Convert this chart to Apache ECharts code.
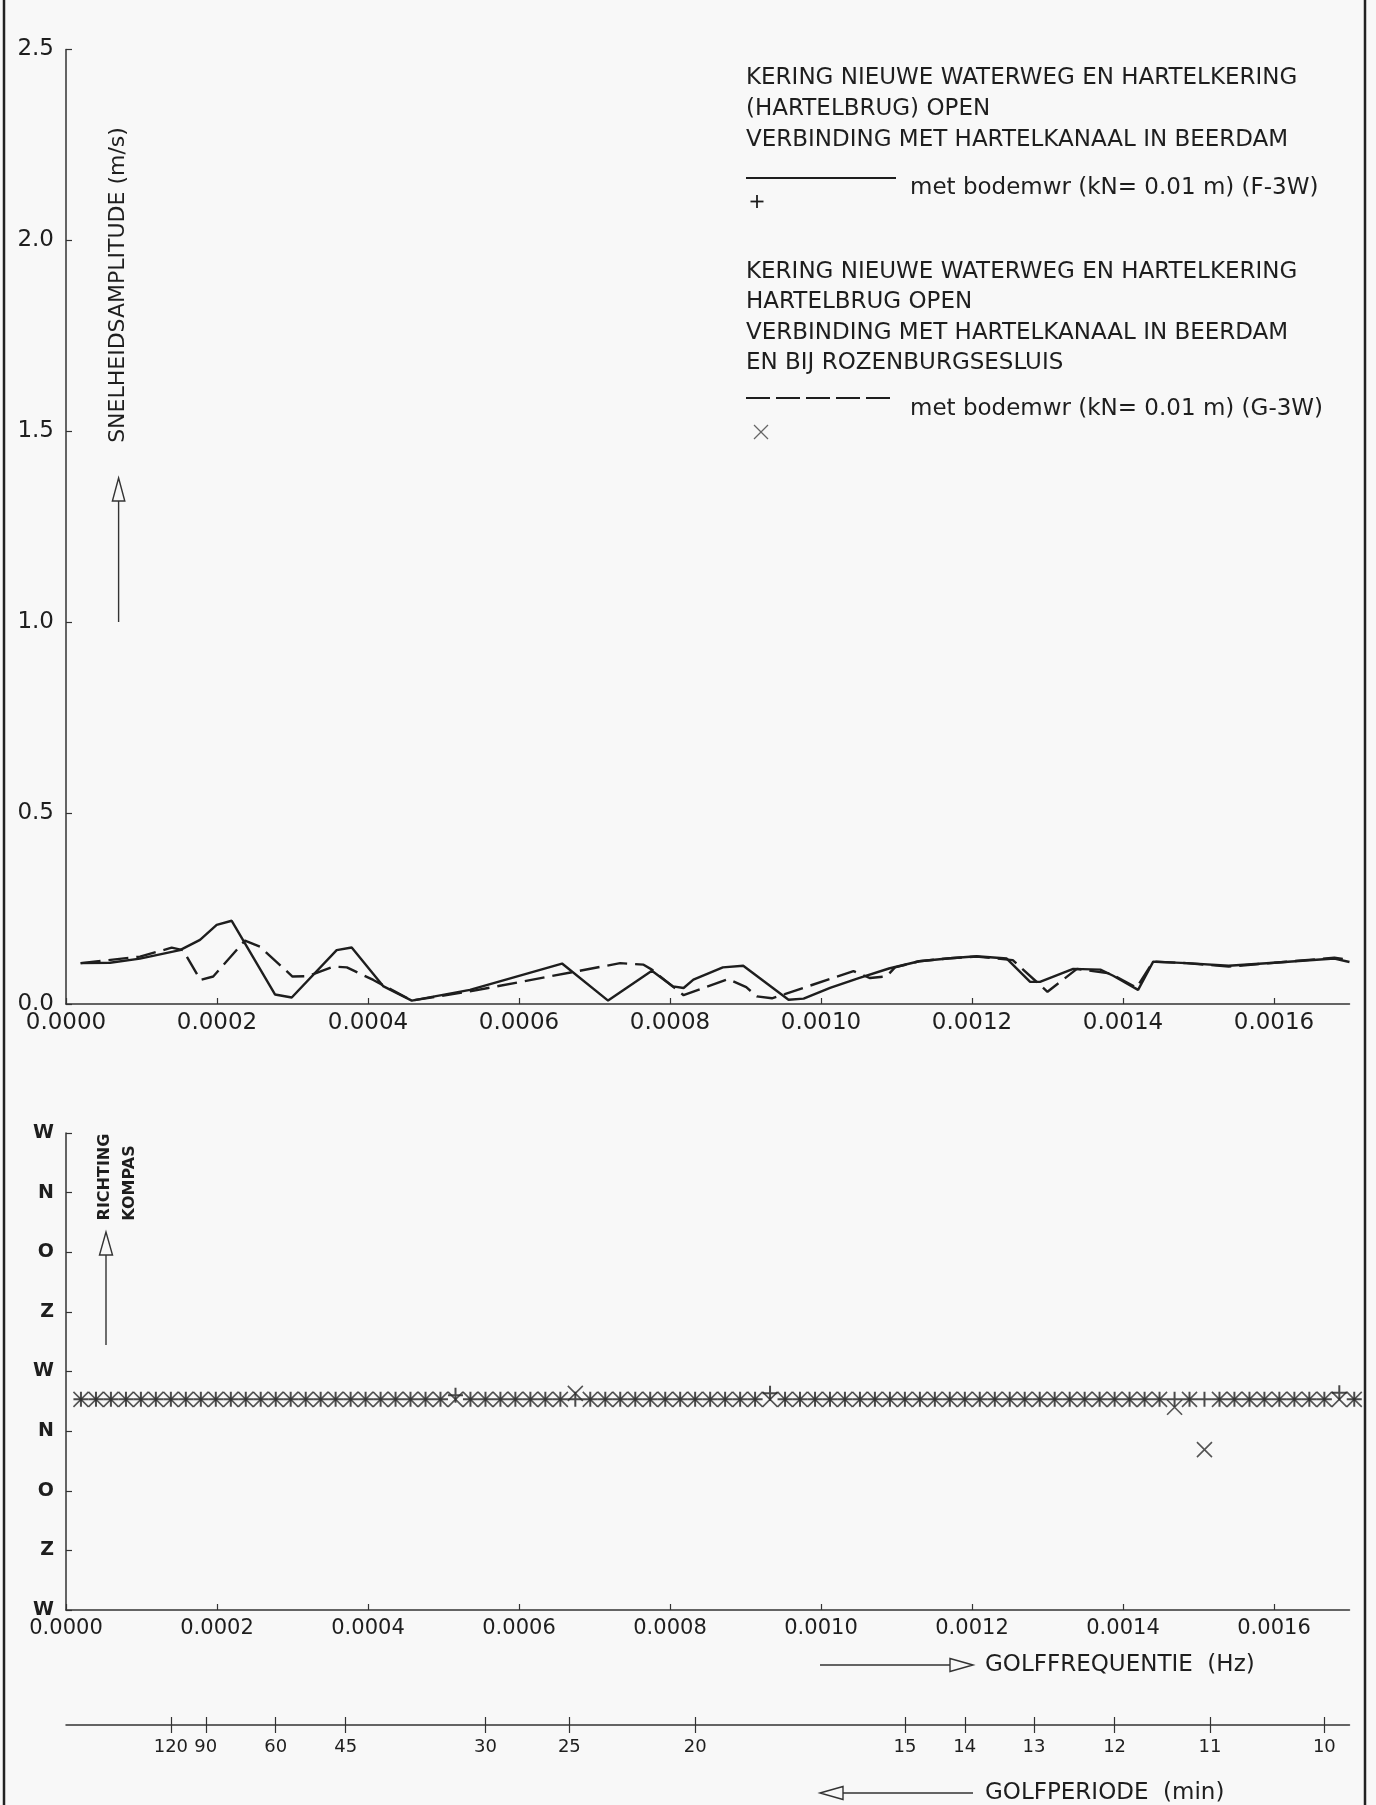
<!DOCTYPE html>
<html>
<head>
<meta charset="utf-8">
<script src="https://cdn.jsdelivr.net/npm/echarts@6/dist/echarts.min.js"></script>
<style>
html,body{margin:0;padding:0;background:#f8f8f8;}
#chart{width:1376px;height:1805px;}
</style>
</head>
<body>
<div id="chart"></div>
<script>
// ---- data ----
const solidFreq = [0.0000194,0.0000583,0.000098,0.000151,0.0001775,0.0001996,0.0002195,0.0002768,0.000299,0.0003585,0.0003784,0.00042,0.000458,0.000535,0.000657,0.000718,0.000776,0.000804,0.000818,0.000831,0.00087,0.000897,0.000957,0.000977,0.001012,0.00105,0.00109,0.00113,0.001171,0.001206,0.001246,0.001277,0.00129,0.001334,0.00137,0.001387,0.00142,0.00144,0.001484,0.00154,0.0016,0.00168,0.0017];
const solidAmp  = [0.107,0.108,0.119,0.141,0.168,0.207,0.218,0.025,0.017,0.141,0.148,0.047,0.009,0.037,0.106,0.009,0.087,0.046,0.042,0.064,0.096,0.100,0.011,0.014,0.042,0.068,0.093,0.112,0.120,0.125,0.119,0.058,0.058,0.092,0.090,0.074,0.037,0.111,0.107,0.100,0.108,0.119,0.110];
const dashFreq = [0.0000194,0.000098,0.00014,0.000155,0.000178,0.000195,0.000237,0.000257,0.0003,0.00032,0.000354,0.000372,0.000407,0.000458,0.000535,0.000734,0.000765,0.000776,0.000818,0.000877,0.000901,0.000915,0.000935,0.000952,0.001043,0.001065,0.001087,0.001098,0.00113,0.001171,0.001206,0.001254,0.0013,0.001339,0.001383,0.001418,0.00144,0.001484,0.00154,0.0016,0.00168,0.0017];
const dashAmp  = [0.107,0.124,0.1475,0.141,0.063,0.072,0.166,0.150,0.072,0.073,0.098,0.096,0.063,0.009,0.033,0.107,0.103,0.090,0.023,0.0655,0.044,0.020,0.015,0.026,0.086,0.068,0.0725,0.096,0.112,0.120,0.124,0.115,0.032,0.092,0.080,0.043,0.111,0.107,0.098,0.108,0.121,0.116];

// frequencies of the direction markers (Hz)
const markerFreq = [
0.0000198,0.0000397,0.0000595,0.0000794,0.0000992,0.0001190,0.0001389,0.0001587,0.0001786,0.0001984,
0.0002183,0.0002381,0.0002579,0.0002778,0.0002976,0.0003175,0.0003373,0.0003571,0.0003770,0.0003968,
0.0004167,0.0004365,0.0004563,0.0004762,0.0004960,0.0005159,0.0005357,0.0005556,0.0005754,0.0005952,
0.0006151,0.0006349,0.0006548,0.0006746,0.0006944,0.0007143,0.0007341,0.0007540,0.0007738,0.0007937,
0.0008135,0.0008333,0.0008532,0.0008730,0.0008929,0.0009127,0.0009325,0.0009524,0.0009722,0.0009921,
0.0010119,0.0010317,0.0010516,0.0010714,0.0010913,0.0011111,0.0011310,0.0011508,0.0011706,0.0011905,
0.0012103,0.0012302,0.0012500,0.0012698,0.0012897,0.0013095,0.0013294,0.0013492,0.0013690,0.0013889,
0.0014087,0.0014286,0.0014484,0.0014683,0.0014881,0.0015079,0.0015278,0.0015476,0.0015675,0.0015873,
0.0016071,0.0016270,0.0016468,0.0016667,0.0016865,0.0017063];
// direction (degrees, axis runs W-N-O-Z-W-N-O-Z-W downward) for F-3W (+)
const dirF = [
312,312,312,312,312,312,312,312,312,312,
312,312,312,312,312,312,312,312,312,312,
312,312,312,312,312,306,312,312,312,312,
312,312,312,312,312,312,312,312,312,312,
312,312,312,312,312,312,303,312,312,312,
312,312,312,312,312,312,312,312,312,312,
312,312,312,312,312,312,312,312,312,312,
312,312,312,312,312,312,312,312,312,312,
312,312,312,312,302,312];
// direction for G-3W (x)
const dirG = [
312,312,312,312,312,312,312,312,312,312,
312,312,312,312,312,312,312,312,312,312,
312,312,312,312,312,312,312,312,312,312,
312,312,312,303,312,312,312,312,312,312,
312,312,312,312,312,312,312,312,312,312,
312,312,312,312,312,312,312,312,312,312,
312,312,312,312,312,312,312,312,312,312,
312,312,312,324,312,388,312,312,312,312,
312,312,312,312,312,312];

const freqTicks = [0,0.0002,0.0004,0.0006,0.0008,0.0010,0.0012,0.0014,0.0016];
const periodTicks = [120,90,60,45,30,25,20,15,14,13,12,11,10];
const compassNames = {0:'N',90:'O',180:'Z',270:'W'};

// ---- chart ----
const FONT = 'DejaVu Sans';
const INK = '#1e1e1e';
const chart = echarts.init(document.getElementById('chart'), null, {renderer:'canvas'});

const zip = (a,b) => a.map((v,i)=>[v,b[i]]);
const periodPos = periodTicks.map(T => 1/(60*T));

const axisLineStyle = {onZero:false, lineStyle:{color:'#333', width:1.5}};

const option = {
  backgroundColor:'#f8f8f8',
  animation:false,
  grid:[
    {left:66, right:26.5, top:49.5, bottom:801, containLabel:false},
    {left:66, right:26.5, top:1133, bottom:195, containLabel:false},
    {left:66, right:26.5, top:1724, height:1, containLabel:false}
  ],
  xAxis:[
    {gridIndex:0, type:'value', min:0, max:0.0017, position:'bottom',
     axisLine:axisLineStyle,
     axisTick:{inside:true, length:6, customValues:freqTicks, lineStyle:{color:'#333',width:1.2}},
     axisLabel:{customValues:freqTicks, formatter:v=>v.toFixed(4), fontFamily:FONT, fontSize:23, color:INK, margin:8},
     splitLine:{show:false}},
    {gridIndex:1, type:'value', min:0, max:0.0017, position:'bottom',
     axisLine:axisLineStyle,
     axisTick:{inside:true, length:6, customValues:freqTicks, lineStyle:{color:'#333',width:1.2}},
     axisLabel:{customValues:freqTicks, formatter:v=>v.toFixed(4), fontFamily:FONT, fontSize:21, color:INK, margin:8},
     splitLine:{show:false}},
    {gridIndex:2, type:'value', min:0, max:0.0017, position:'bottom',
     axisLine:axisLineStyle,
     axisTick:{inside:false, length:8, customValues:periodPos, lineStyle:{color:'#333',width:1.2}},
     axisLabel:{customValues:periodPos, formatter:v=>String(Math.round(1/(60*v))), fontFamily:FONT, fontSize:18, color:INK, margin:13},
     splitLine:{show:false}},
    {gridIndex:2, type:'value', min:0, max:0.0017, position:'bottom',
     axisLine:{show:false, onZero:false},
     axisTick:{inside:true, length:8, customValues:periodPos, lineStyle:{color:'#333',width:1.2}},
     axisLabel:{show:false},
     splitLine:{show:false}}
  ],
  yAxis:[
    {gridIndex:0, type:'value', min:0, max:2.5, interval:0.5,
     axisLine:{show:true, onZero:false, lineStyle:{color:'#333', width:1.5}},
     axisTick:{show:true, inside:true, length:6, lineStyle:{color:'#333',width:1.2}},
     axisLabel:{formatter:v=>v.toFixed(1), fontFamily:FONT, fontSize:23, color:INK, margin:12},
     splitLine:{show:false}},
    {gridIndex:1, type:'value', min:-90, max:630, interval:90, inverse:true,
     axisLine:{show:true, onZero:false, lineStyle:{color:'#333', width:1.5}},
     axisTick:{show:true, inside:true, length:6, lineStyle:{color:'#333',width:1.2}},
     axisLabel:{formatter:v=>compassNames[((v%360)+360)%360], fontFamily:FONT, fontWeight:'bold', fontSize:19, color:INK, margin:12, padding:[0,0,10,0]},
     splitLine:{show:false}},
    {gridIndex:2, type:'value', min:0, max:1, show:false}
  ],
  series:[
    {type:'line', xAxisIndex:0, yAxisIndex:0, data:zip(solidFreq, solidAmp), symbol:'none',
     lineStyle:{color:INK, width:2.4}},
    {type:'line', xAxisIndex:0, yAxisIndex:0, data:zip(dashFreq, dashAmp), symbol:'none',
     lineStyle:{color:INK, width:2.4, type:[20,8]}},
    {type:'scatter', xAxisIndex:1, yAxisIndex:1, data:zip(markerFreq, dirF), clip:false,
     symbol:'path://M7,0L7,14M0,7L14,7', symbolSize:15,
     itemStyle:{color:'rgba(0,0,0,0)', borderColor:'#1e1e1e', borderWidth:2},
     emphasis:{disabled:true}},
    {type:'scatter', xAxisIndex:1, yAxisIndex:1, data:zip(markerFreq, dirG), clip:false,
     symbol:'path://M0,0L14,14M14,0L0,14', symbolSize:15,
     itemStyle:{color:'rgba(0,0,0,0)', borderColor:'#2a2a2a', borderWidth:1.6},
     emphasis:{disabled:true}}
  ],
  graphic:[
    // frame
    {type:'line', shape:{x1:4,y1:0,x2:4,y2:1805}, style:{stroke:'#222', lineWidth:2.5}, silent:true},
    {type:'line', shape:{x1:1365,y1:0,x2:1365,y2:1805}, style:{stroke:'#222', lineWidth:2.5}, silent:true},
    // top y-axis name + arrow
    {type:'text', x:118.6, y:285, rotation:Math.PI/2,
     style:{text:'SNELHEIDSAMPLITUDE (m/s)', font:'22px "DejaVu Sans"', fill:INK, align:'center', verticalAlign:'middle'}},
    {type:'line', shape:{x1:118.6,y1:622,x2:118.6,y2:501}, style:{stroke:'#333', lineWidth:1.4}},
    {type:'polygon', shape:{points:[[118.6,478],[112.4,501],[124.8,501]]}, style:{stroke:'#333', fill:'none', lineWidth:1.4}},
    // legend block 1
    {type:'text', x:746, y:78, style:{text:'KERING NIEUWE WATERWEG EN HARTELKERING', font:'23px "DejaVu Sans"', fill:INK, verticalAlign:'middle'}},
    {type:'text', x:746, y:109, style:{text:'(HARTELBRUG) OPEN', font:'23px "DejaVu Sans"', fill:INK, verticalAlign:'middle'}},
    {type:'text', x:746, y:140, style:{text:'VERBINDING MET HARTELKANAAL IN BEERDAM', font:'23px "DejaVu Sans"', fill:INK, verticalAlign:'middle'}},
    {type:'line', shape:{x1:746,y1:178,x2:896,y2:178}, style:{stroke:INK, lineWidth:2}},
    {type:'text', x:910, y:188, style:{text:'met bodemwr (kN= 0.01 m) (F-3W)', font:'23px "DejaVu Sans"', fill:INK, verticalAlign:'middle'}},
    {type:'line', shape:{x1:757,y1:195,x2:757,y2:208}, style:{stroke:INK, lineWidth:1.8}},
    {type:'line', shape:{x1:750.5,y1:201.5,x2:763.5,y2:201.5}, style:{stroke:INK, lineWidth:1.8}},
    // legend block 2
    {type:'text', x:746, y:272, style:{text:'KERING NIEUWE WATERWEG EN HARTELKERING', font:'23px "DejaVu Sans"', fill:INK, verticalAlign:'middle'}},
    {type:'text', x:746, y:302, style:{text:'HARTELBRUG OPEN', font:'23px "DejaVu Sans"', fill:INK, verticalAlign:'middle'}},
    {type:'text', x:746, y:333, style:{text:'VERBINDING MET HARTELKANAAL IN BEERDAM', font:'23px "DejaVu Sans"', fill:INK, verticalAlign:'middle'}},
    {type:'text', x:746, y:363, style:{text:'EN BIJ ROZENBURGSESLUIS', font:'23px "DejaVu Sans"', fill:INK, verticalAlign:'middle'}},
    {type:'line', shape:{x1:746,y1:398,x2:890,y2:398}, style:{stroke:INK, lineWidth:2, lineDash:[24,6]}},
    {type:'text', x:910, y:409, style:{text:'met bodemwr (kN= 0.01 m) (G-3W)', font:'23px "DejaVu Sans"', fill:INK, verticalAlign:'middle'}},
    {type:'line', shape:{x1:754,y1:425,x2:768,y2:439}, style:{stroke:'#666', lineWidth:1.3}},
    {type:'line', shape:{x1:768,y1:425,x2:754,y2:439}, style:{stroke:'#666', lineWidth:1.3}},
    // bottom y-axis name + arrow
    {type:'text', x:105, y:1177, rotation:Math.PI/2,
     style:{text:'RICHTING', font:'bold 16px "DejaVu Sans"', fill:INK, align:'center', verticalAlign:'middle'}},
    {type:'text', x:129.5, y:1183, rotation:Math.PI/2,
     style:{text:'KOMPAS', font:'bold 16px "DejaVu Sans"', fill:INK, align:'center', verticalAlign:'middle'}},
    {type:'line', shape:{x1:106,y1:1345,x2:106,y2:1255}, style:{stroke:'#333', lineWidth:1.4}},
    {type:'polygon', shape:{points:[[106,1232],[99.5,1255],[112.5,1255]]}, style:{stroke:'#333', fill:'none', lineWidth:1.4}},
    // frequency axis name + arrow
    {type:'line', shape:{x1:820,y1:1665,x2:950,y2:1665}, style:{stroke:'#333', lineWidth:1.4}},
    {type:'polygon', shape:{points:[[973,1665],[950,1658.5],[950,1671.5]]}, style:{stroke:'#333', fill:'none', lineWidth:1.4}},
    {type:'text', x:985, y:1665, style:{text:'GOLFFREQUENTIE  (Hz)', font:'23px "DejaVu Sans"', fill:INK, verticalAlign:'middle'}},
    // period axis name + arrow
    {type:'polygon', shape:{points:[[820,1793],[843,1786.5],[843,1799.5]]}, style:{stroke:'#333', fill:'none', lineWidth:1.4}},
    {type:'line', shape:{x1:843,y1:1793,x2:973,y2:1793}, style:{stroke:'#333', lineWidth:1.4}},
    {type:'text', x:985, y:1793, style:{text:'GOLFPERIODE  (min)', font:'23px "DejaVu Sans"', fill:INK, verticalAlign:'middle'}}
  ]
};
chart.setOption(option);
</script>
</body>
</html>
